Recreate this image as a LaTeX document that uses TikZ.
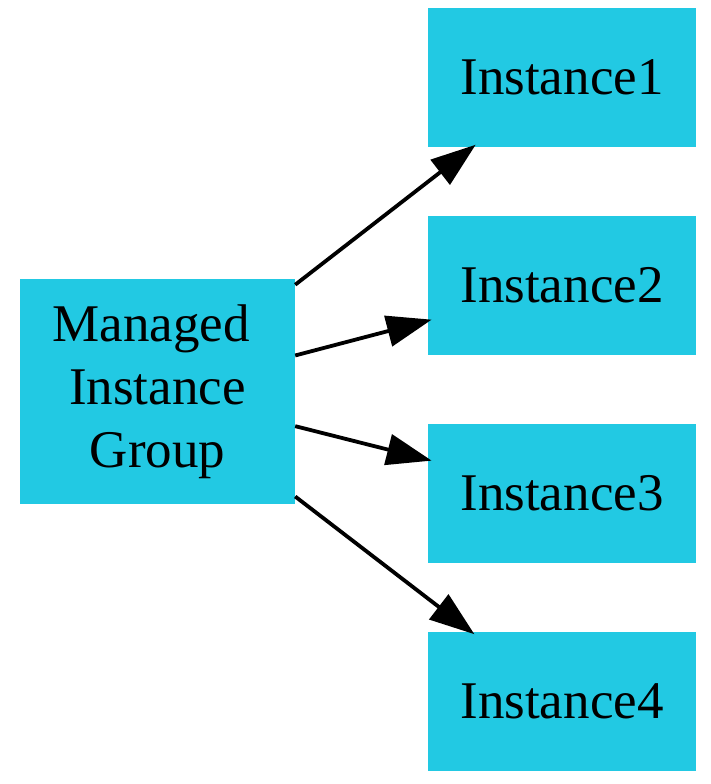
\documentclass[tikz,border=0pt]{standalone}
\usepackage{fontspec}
\setmainfont{Liberation Serif}
\usepackage{tikz}
\usetikzlibrary{arrows.meta}
\definecolor{boxcyan}{RGB}{34,201,227}

\begin{document}
\begin{tikzpicture}[x=1pt,y=1pt,
  box/.style={fill=boxcyan, inner sep=0pt, align=center, font=\fontsize{53}{63}\selectfont},
  inst/.style={box, minimum width=268pt, minimum height=139pt},
  edge/.style={line width=3.8pt, -{Triangle[length=45pt,width=31pt]}, shorten >=-4pt}]
\useasboundingbox (0,0) rectangle (710,784);
\def\xR{562}
\def\dy{208}
\def\gap{\hspace*{13pt}}
\node[box, minimum width=275pt, minimum height=225pt] (mig) at (157.5,392.5) {Managed\gap\\Instance\gap\\Group};
\node[inst] (inst1) at (\xR,706.5) {Instance1};
\node[inst] (inst2) at (\xR,706.5-\dy) {Instance2};
\node[inst] (inst3) at (\xR,706.5-2*\dy) {Instance3};
\node[inst] (inst4) at (\xR,706.5-3*\dy) {Instance4};
\foreach \i in {1,...,4}
  \draw[edge] (mig) -- (inst\i);
\end{tikzpicture}
\end{document}
